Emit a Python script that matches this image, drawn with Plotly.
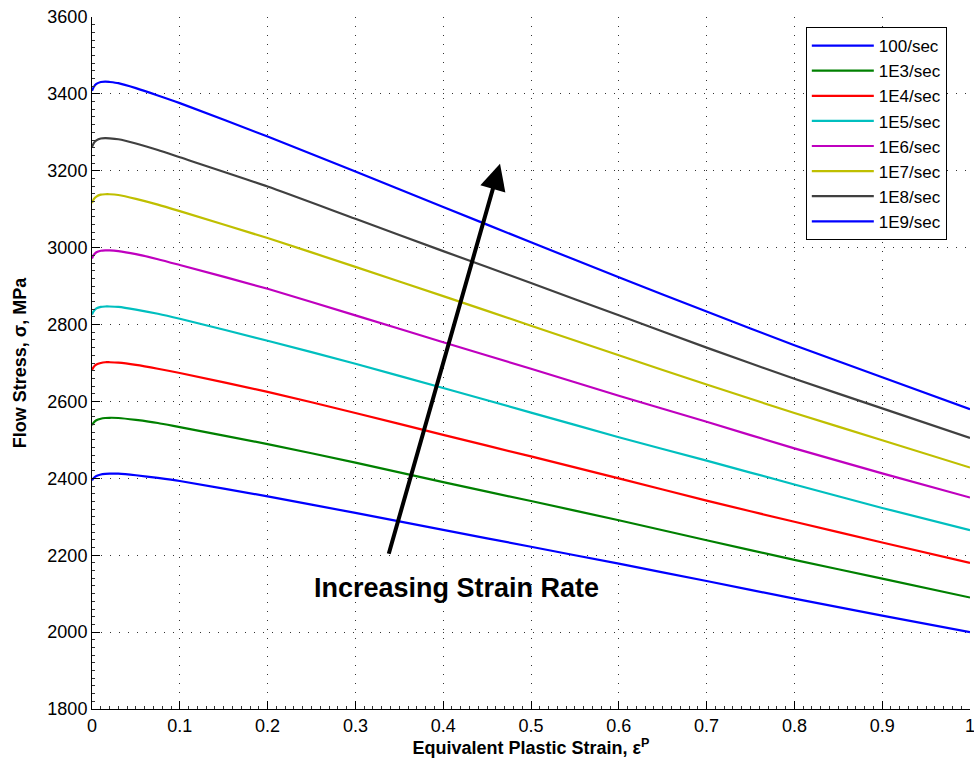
import plotly.graph_objects as go

strain = [0, 0.002, 0.005, 0.01, 0.015, 0.02, 0.03, 0.05, 0.075,
          0.1, 0.2, 0.3, 0.4, 0.5, 0.6, 0.7, 0.8, 0.9, 1.0]

rate_labels = ["100/sec", "1E3/sec", "1E4/sec", "1E5/sec",
               "1E6/sec", "1E7/sec", "1E8/sec", "1E9/sec"]

stress_100 = [2395, 2401, 2406, 2410, 2411.5, 2412, 2412, 2408, 2401,
              2393, 2353, 2310, 2266, 2222, 2178, 2133, 2087, 2043, 2000]
stress_1e3 = [2538, 2545, 2551, 2555, 2557, 2557.5, 2557, 2552, 2544,
              2533, 2489, 2441, 2390, 2341, 2291, 2239, 2188, 2139, 2090]
stress_1e4 = [2682, 2690, 2696, 2700, 2702, 2702, 2701, 2695, 2685,
              2674, 2625, 2570, 2513, 2457, 2400, 2342, 2287, 2233, 2180]
stress_1e5 = [2826, 2835, 2842, 2846, 2847, 2847, 2846, 2839, 2828,
              2815, 2758, 2698, 2635, 2571, 2507, 2446, 2384, 2323, 2265]
stress_1e6 = [2972, 2981, 2988, 2992, 2993, 2993, 2991, 2983, 2970,
              2955, 2893, 2824, 2754, 2685, 2615, 2547, 2478, 2413, 2350]
stress_1e7 = [3116, 3126, 3133, 3138, 3139, 3139, 3137, 3127, 3112,
              3095, 3025, 2950, 2874, 2797, 2720, 2644, 2570, 2499, 2428]
stress_1e8 = [3262, 3272, 3279, 3284, 3285, 3284.5, 3282, 3271, 3254,
              3235, 3159, 3075, 2991, 2908, 2824, 2740, 2659, 2582, 2505]
stress_1e9 = [3408, 3418, 3426, 3431, 3432, 3431, 3428, 3415, 3396,
              3376, 3289, 3198, 3106, 3014, 2923, 2834, 2746, 2663, 2580]

series = [stress_100, stress_1e3, stress_1e4, stress_1e5,
          stress_1e6, stress_1e7, stress_1e8, stress_1e9]
colors = ["#0000ff", "#008000", "#ff0000", "#00bfbf",
          "#bf00bf", "#bfbf00", "#404040", "#0000ff"]

x_ticks = [0, 0.1, 0.2, 0.3, 0.4, 0.5, 0.6, 0.7, 0.8, 0.9, 1]
x_tick_text = ["0", "0.1", "0.2", "0.3", "0.4", "0.5", "0.6", "0.7", "0.8", "0.9", "1"]
y_ticks = [1800, 2000, 2200, 2400, 2600, 2800, 3000, 3200, 3400, 3600]

arrow_start = (0.3375, 2200)
arrow_end = (0.4647, 3218)
label_pos = (0.415, 2114)

FONT = "Liberation Sans, Arial, Helvetica, sans-serif"

fig = go.Figure()
for name, ys, c in zip(rate_labels, series, colors):
    fig.add_trace(go.Scatter(x=strain, y=ys, mode="lines", name=name,
                             line=dict(color=c, width=2.2, shape="spline", smoothing=0.6)))

grid_dash = "1px,8px"
fig.update_xaxes(range=[0, 1], tickvals=x_ticks, ticktext=x_tick_text,
                 automargin=False, ticklabeloverflow="allow",
                 showgrid=True, gridcolor="#333", gridwidth=1, griddash=grid_dash,
                 zeroline=False, showline=True, linecolor="black", linewidth=1,
                 ticks="inside", ticklen=8, tickcolor="black",
                 minor=dict(dtick=0.01, ticks="inside", ticklen=3, tickcolor="#333", showgrid=False),
                 tickfont=dict(family=FONT, size=18, color="black"),
                 title=dict(text="<b>Equivalent Plastic Strain, ε<sup>P</sup></b>",
                            font=dict(family=FONT, size=18, color="black"), standoff=4))
fig.update_yaxes(range=[1800, 3600], tickvals=y_ticks,
                 automargin=False, ticklabeloverflow="allow",
                 showgrid=True, gridcolor="#333", gridwidth=1, griddash=grid_dash,
                 zeroline=False, showline=True, linecolor="black", linewidth=1,
                 ticks="inside", ticklen=8, tickcolor="black",
                 minor=dict(dtick=20, ticks="inside", ticklen=3, tickcolor="#333", showgrid=False),
                 tickfont=dict(family=FONT, size=18, color="black"),
                 title=dict(text="<b>Flow Stress, σ, MPa</b>",
                            font=dict(family=FONT, size=18, color="black"), standoff=16))

fig.add_annotation(x=arrow_end[0], y=arrow_end[1], ax=arrow_start[0], ay=arrow_start[1],
                   xref="x", yref="y", axref="x", ayref="y", text="",
                   showarrow=True, arrowhead=2, arrowsize=1.3, arrowwidth=4, arrowcolor="black")
fig.add_annotation(x=label_pos[0], y=label_pos[1], xref="x", yref="y",
                   text="<b>Increasing Strain Rate</b>", showarrow=False,
                   font=dict(family=FONT, size=27, color="black"))

fig.update_layout(width=974, height=771,
                  margin=dict(l=92, r=4, t=17, b=62),
                  paper_bgcolor="white", plot_bgcolor="white",
                  showlegend=True,
                  legend=dict(x=0.813, y=0.9855, xanchor="left", yanchor="top",
                              bgcolor="white", bordercolor="black", borderwidth=1,
                              font=dict(family=FONT, size=17, color="black"),
                              itemwidth=62,
                              tracegroupgap=0))
fig.write_html("out.html", config={"displayModeBar": False},
               post_script="document.body.style.margin='0';document.body.style.padding='0';")
